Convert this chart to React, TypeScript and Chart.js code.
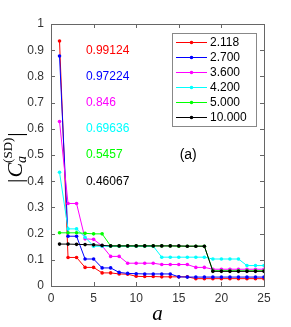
import React, { useEffect, useRef } from "react";
import { Chart, registerables } from "chart.js";

Chart.register(...registerables);

const aValues = [1, 2, 3, 4, 5, 6, 7, 8, 9, 10, 11, 12, 13, 14, 15, 16, 17, 18, 19, 20, 21, 22, 23, 24, 25];
const seriesLabels = ["2.118", "2.700", "3.600", "4.200", "5.000", "10.000"];
const seriesColors = ["#ff0000", "#0000ff", "#ff00ff", "#00ffff", "#00ff00", "#000000"];

const s2118 = [0.935, 0.109, 0.109, 0.071, 0.071, 0.05, 0.05, 0.046, 0.045, 0.037, 0.036, 0.036, 0.035, 0.035, 0.035, 0.035, 0.028, 0.028, 0.028, 0.028, 0.028, 0.028, 0.028, 0.028, 0.028];
const s2700 = [0.878, 0.19, 0.19, 0.103, 0.103, 0.069, 0.069, 0.052, 0.048, 0.047, 0.046, 0.046, 0.046, 0.046, 0.035, 0.034, 0.034, 0.034, 0.034, 0.034, 0.034, 0.034, 0.034, 0.034, 0.034];
const s3600 = [0.628, 0.315, 0.315, 0.18, 0.178, 0.153, 0.113, 0.113, 0.087, 0.087, 0.087, 0.087, 0.082, 0.082, 0.082, 0.082, 0.071, 0.071, 0.064, 0.064, 0.064, 0.064, 0.064, 0.064, 0.064];
const s4200 = [0.434, 0.218, 0.218, 0.186, 0.152, 0.152, 0.152, 0.152, 0.152, 0.152, 0.152, 0.152, 0.11, 0.11, 0.11, 0.11, 0.11, 0.11, 0.103, 0.103, 0.103, 0.103, 0.078, 0.078, 0.078];
const s5000 = [0.203, 0.203, 0.203, 0.201, 0.199, 0.199, 0.153, 0.153, 0.153, 0.153, 0.153, 0.153, 0.153, 0.153, 0.152, 0.152, 0.152, 0.152, 0.058, 0.058, 0.058, 0.058, 0.058, 0.058, 0.058];
const s10000 = [0.16, 0.16, 0.159, 0.158, 0.157, 0.155, 0.153, 0.153, 0.153, 0.153, 0.153, 0.153, 0.153, 0.153, 0.153, 0.152, 0.152, 0.152, 0.056, 0.056, 0.056, 0.056, 0.056, 0.056, 0.056];
const allSeries = [s2118, s2700, s3600, s4200, s5000, s10000];

const annotationTexts = ["0.99124", "0.97224", "0.846", "0.69636", "0.5457", "0.46067"];
const annotationY = [0.9, 0.8, 0.7, 0.6, 0.5, 0.4];
const annotationX = 4.1;
const panelLabel = "(a)";
const panelX = 15.1;
const panelY = 0.5;

const xTicks = [0, 5, 10, 15, 20, 25];
const yTicks = [0, 0.1, 0.2, 0.3, 0.4, 0.5, 0.6, 0.7, 0.8, 0.9, 1];

const SANS = "'Liberation Sans', Arial, sans-serif";
const SERIF = "'Liberation Serif', 'DejaVu Serif', serif";

const decorPlugin = {
  id: "decor",
  afterDatasetsDraw(chart: any) {
    const { ctx, chartArea, scales } = chart;
    const { left, right, top, bottom } = chartArea;
    const xs = scales.x;
    const ys = scales.y;
    ctx.save();
    // frame
    ctx.strokeStyle = "#666666";
    ctx.lineWidth = 1;
    ctx.strokeRect(Math.round(left) + 0.5, Math.round(top) + 0.5, Math.round(right - left), Math.round(bottom - top));
    // inward ticks
    const tl = 4;
    ctx.beginPath();
    xTicks.forEach((v) => {
      const px = Math.round(xs.getPixelForValue(v)) + 0.5;
      ctx.moveTo(px, bottom);
      ctx.lineTo(px, bottom - tl);
      ctx.moveTo(px, top);
      ctx.lineTo(px, top + tl);
    });
    yTicks.forEach((v) => {
      const py = Math.round(ys.getPixelForValue(v)) + 0.5;
      ctx.moveTo(left, py);
      ctx.lineTo(left + tl, py);
      ctx.moveTo(right, py);
      ctx.lineTo(right - tl, py);
    });
    ctx.stroke();

    // annotations
    ctx.font = `12px ${SANS}`;
    ctx.textBaseline = "middle";
    ctx.textAlign = "left";
    annotationTexts.forEach((t, i) => {
      ctx.fillStyle = seriesColors[i];
      ctx.fillText(t, xs.getPixelForValue(annotationX), ys.getPixelForValue(annotationY[i]));
    });
    ctx.fillStyle = "#000";
    ctx.font = `14px ${SANS}`;
    ctx.fillText(panelLabel, xs.getPixelForValue(panelX), ys.getPixelForValue(panelY));

    // legend
    const lx = 172, ly = 33, lw = 84, lh = 93;
    ctx.fillStyle = "#ffffff";
    ctx.fillRect(lx, ly, lw, lh);
    ctx.strokeStyle = "#888888";
    ctx.strokeRect(lx + 0.5, ly + 0.5, lw, lh);
    ctx.font = `12px ${SANS}`;
    seriesLabels.forEach((lab, i) => {
      const yy = 42 + i * 15;
      ctx.strokeStyle = seriesColors[i];
      ctx.lineWidth = 1;
      ctx.beginPath();
      ctx.moveTo(176, yy + 0.5);
      ctx.lineTo(207, yy + 0.5);
      ctx.stroke();
      ctx.fillStyle = seriesColors[i];
      ctx.beginPath();
      ctx.arc(191.5, yy + 0.5, 1.8, 0, Math.PI * 2);
      ctx.fill();
      ctx.fillStyle = "#000";
      ctx.textBaseline = "middle";
      ctx.fillText(lab, 210, yy + 1);
    });

    // x title
    ctx.fillStyle = "#000";
    ctx.font = `italic 21px ${SERIF}`;
    ctx.textAlign = "center";
    ctx.textBaseline = "alphabetic";
    ctx.fillText("a", (left + right) / 2, 320);

    // y title: |C_a^(SD)|
    ctx.save();
    ctx.translate(22, 183);
    ctx.rotate(-Math.PI / 2);
    ctx.textAlign = "left";
    ctx.textBaseline = "alphabetic";
    let cx = 0;
    ctx.font = `22px ${SERIF}`;
    ctx.fillText("|", cx, 0);
    cx += ctx.measureText("|").width + 1;
    ctx.font = `italic 22px ${SERIF}`;
    ctx.fillText("C", cx, 0);
    cx += ctx.measureText("C").width;
    ctx.font = `italic 14px ${SERIF}`;
    ctx.fillText("a", cx, 4);
    const aw = ctx.measureText("a").width;
    ctx.font = `13px ${SERIF}`;
    ctx.fillText("(SD)", cx, -10);
    const sw = ctx.measureText("(SD)").width;
    cx += Math.max(aw, sw) + 1;
    ctx.font = `22px ${SERIF}`;
    ctx.fillText("|", cx, 0);
    ctx.restore();

    ctx.restore();
  },
};

export default function App() {
  const canvasRef = useRef<HTMLCanvasElement | null>(null);

  useEffect(() => {
    const canvas = canvasRef.current;
    if (!canvas) return;
    const datasets = allSeries.map((vals, i) => ({
      label: seriesLabels[i],
      data: aValues.map((a, j) => ({ x: a, y: vals[j] })),
      borderColor: seriesColors[i],
      backgroundColor: seriesColors[i],
      borderWidth: 1,
      pointRadius: 1.8,
      pointHoverRadius: 1.8,
      pointBorderWidth: 0,
      tension: 0,
      order: allSeries.length - 1 - i,
    }));
    const chart = new Chart(canvas, {
      type: "line",
      data: { datasets },
      options: {
        responsive: false,
        animation: false,
        devicePixelRatio: 1,
        layout: { padding: { left: 0, right: 27, top: 24, bottom: 0 } },
        plugins: { legend: { display: false }, tooltip: { enabled: false } },
        scales: {
          x: {
            type: "linear",
            min: 0,
            max: 25,
            afterFit: (s: any) => { s.height = 41; },
            afterBuildTicks: (s: any) => { s.ticks = xTicks.map((v) => ({ value: v })); },
            grid: { display: false, drawTicks: false },
            border: { display: false },
            ticks: { color: "#333", font: { family: SANS, size: 12 }, padding: 5, maxRotation: 0 },
          },
          y: {
            type: "linear",
            min: 0,
            max: 1,
            afterFit: (s: any) => { s.width = 51; },
            afterBuildTicks: (s: any) => { s.ticks = yTicks.map((v) => ({ value: v })); },
            grid: { display: false, drawTicks: false },
            border: { display: false },
            ticks: {
              color: "#333",
              font: { family: SANS, size: 12 },
              padding: 7,
              callback: (v: any) => String(Math.round(Number(v) * 10) / 10),
            },
          },
        },
      },
      plugins: [decorPlugin],
    });
    return () => chart.destroy();
  }, []);

  return (
    <div style={{ position: "absolute", left: 0, top: 0, width: 291, height: 327, background: "#fff" }}>
      <canvas ref={canvasRef} width={291} height={327} style={{ width: 291, height: 327, display: "block" }} />
    </div>
  );
}
